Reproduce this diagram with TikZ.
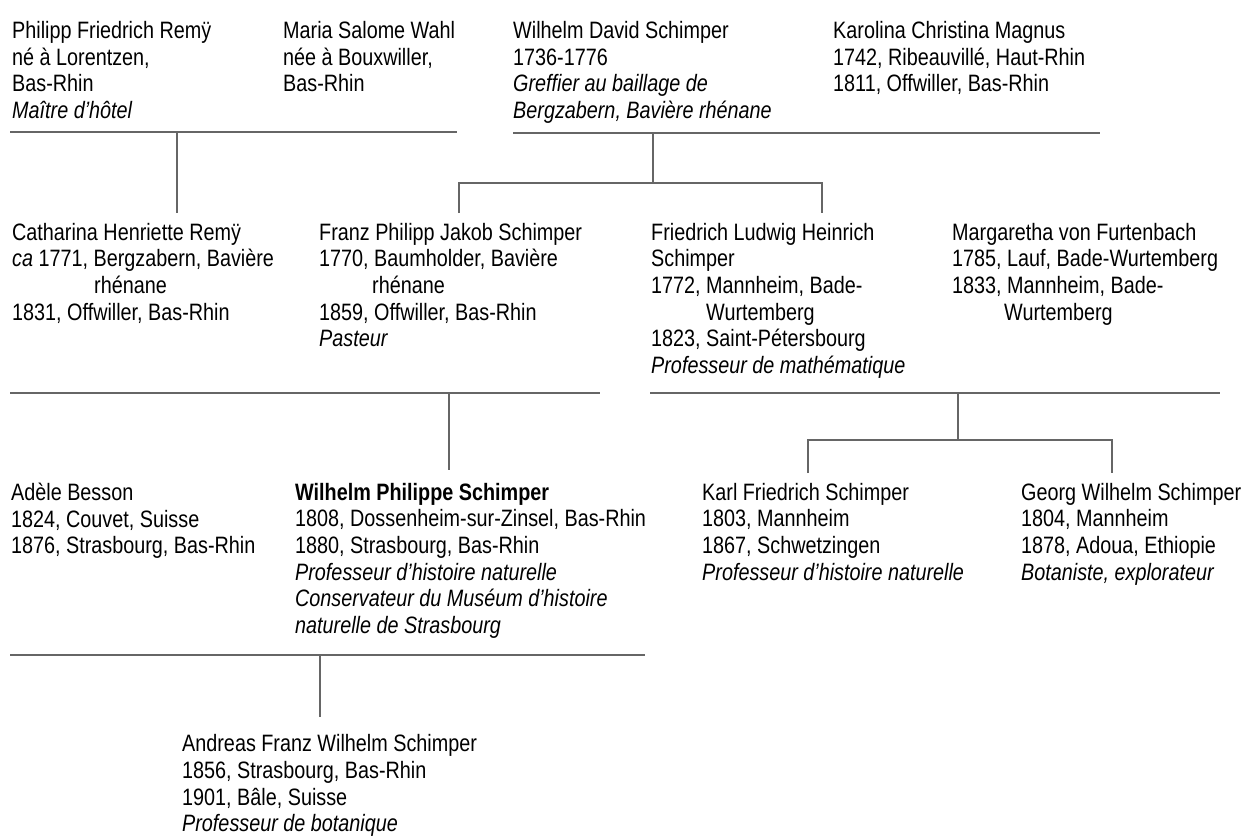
\documentclass[tikz,border=0pt]{standalone}
\usepackage{fontspec}
\setmainfont{Liberation Sans}[FakeStretch=0.835]
\usetikzlibrary{positioning}
\newcommand{\persfont}{\fontsize{23.7}{26.7}\selectfont}
\tikzset{
  person/.style={anchor=north west, align=left, inner sep=0pt, font=\persfont, execute at begin node=\strut},
  tie/.style={draw=gray!80!black, line width=1.1pt},
}

\begin{document}
\begin{tikzpicture}[x=1pt, y=-1pt]
				\useasboundingbox (0,0) rectangle (1244,837);
				\node[person] (philipp) at (12,21.2) {Philipp Friedrich Remÿ\\né à Lorentzen,\\Bas-Rhin\\\textit{Maître d’hôtel}};
				\node[person] (maria) at (283,21.2) {Maria Salome Wahl\\née à Bouxwiller,\\Bas-Rhin};
				\node[person] (wilhelmd) at (513,21.2) {Wilhelm David Schimper\\1736-1776\\\textit{Greffier au baillage de}\\\textit{Bergzabern, Bavière rhénane}};
				\node[person] (karolina) at (833,21.2) {Karolina Christina Magnus\\1742, Ribeauvillé, Haut-Rhin\\1811, Offwiller, Bas-Rhin};
				\node[person] (catharina) at (12,222.8) {Catharina Henriette Remÿ\\\textit{ca} 1771, Bergzabern, Bavière\\\hspace*{82pt}rhénane\\1831, Offwiller, Bas-Rhin};
				\node[person] (franz) at (319,222.8) {Franz Philipp Jakob Schimper\\1770, Baumholder, Bavière\\\hspace*{53pt}rhénane\\1859, Offwiller, Bas-Rhin\\\textit{Pasteur}};
				\node[person] (friedrich) at (651,222.8) {Friedrich Ludwig Heinrich\\Schimper\\1772, Mannheim, Bade-\\\hspace*{55pt}Wurtemberg\\1823, Saint-Pétersbourg\\\textit{Professeur de mathématique}};
				\node[person] (margaretha) at (952,222.8) {Margaretha von Furtenbach\\1785, Lauf, Bade-Wurtemberg\\1833, Mannheim, Bade-\\\hspace*{52pt}Wurtemberg};
				\node[person] (adele) at (11,482.8) {Adèle Besson\\1824, Couvet, Suisse\\1876, Strasbourg, Bas-Rhin};
				\node[person] (wilhelmp) at (295,482.8) {\textbf{Wilhelm Philippe Schimper}\\1808, Dossenheim-sur-Zinsel, Bas-Rhin\\1880, Strasbourg, Bas-Rhin\\\textit{Professeur d’histoire naturelle}\\\textit{Conservateur du Muséum d’histoire}\\\textit{naturelle de Strasbourg}};
				\node[person] (karl) at (702,482.8) {Karl Friedrich Schimper\\1803, Mannheim\\1867, Schwetzingen\\\textit{Professeur d’histoire naturelle}};
				\node[person] (georg) at (1021,482.8) {Georg Wilhelm Schimper\\1804, Mannheim\\1878, Adoua, Ethiopie\\\textit{Botaniste, explorateur}};
				\node[person] (andreas) at (182,734.3) {Andreas Franz Wilhelm Schimper\\1856, Strasbourg, Bas-Rhin\\1901, Bâle, Suisse\\\textit{Professeur de botanique}};
				% couple lines and descents
				\coordinate (m1w) at (10,132);
				\coordinate (m1e) at (457,132);
				\coordinate (m1c) at (177,132);
				\coordinate (k1) at (177,213);
				\coordinate (m2w) at (513,133);
				\coordinate (m2e) at (1100,133);
				\coordinate (m2c) at (653,133);
				\coordinate (s2c) at (653,183);
				\coordinate (s2w) at (459,183);
				\coordinate (s2e) at (822,183);
				\coordinate (k2a) at (459,213);
				\coordinate (k2b) at (822,213);
				\coordinate (m3w) at (10,393);
				\coordinate (m3e) at (600,393);
				\coordinate (m3c) at (449,393);
				\coordinate (k3) at (449,470);
				\coordinate (m4w) at (650,393);
				\coordinate (m4e) at (1220,393);
				\coordinate (m4c) at (958,393);
				\coordinate (s4c) at (958,440);
				\coordinate (s4w) at (808,440);
				\coordinate (s4e) at (1112,440);
				\coordinate (k4a) at (808,473);
				\coordinate (k4b) at (1112,473);
				\coordinate (m5w) at (10,655);
				\coordinate (m5e) at (645,655);
				\coordinate (m5c) at (320,655);
				\coordinate (k5) at (320,717);
				\draw[tie] (m1w) -- (m1e);
				\draw[tie] (m1c) -- (k1);
				\draw[tie] (m2w) -- (m2e);
				\draw[tie] (m2c) -- (s2c);
				\draw[tie] (k2a) -- (s2w) -- (s2e) -- (k2b);
				\draw[tie] (m3w) -- (m3e);
				\draw[tie] (m3c) -- (k3);
				\draw[tie] (m4w) -- (m4e);
				\draw[tie] (m4c) -- (s4c);
				\draw[tie] (k4a) -- (s4w) -- (s4e) -- (k4b);
				\draw[tie] (m5w) -- (m5e);
				\draw[tie] (m5c) -- (k5);
\end{tikzpicture}
\end{document}
